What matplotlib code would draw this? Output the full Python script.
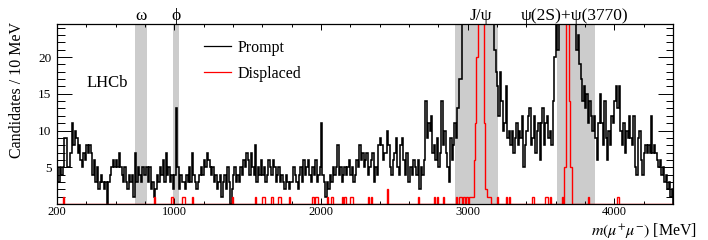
import numpy as np
import matplotlib
matplotlib.use('Agg')
import matplotlib.pyplot as plt
from matplotlib.ticker import FixedLocator, MultipleLocator
import matplotlib.transforms as mtransforms

plt.rcParams['font.family'] = ['Liberation Serif', 'DejaVu Serif']
plt.rcParams['mathtext.fontset'] = 'stix'

# binning: 10 MeV bins from 200 to 4400 MeV
bin_edges = np.arange(200, 4401, 10)

# prompt candidates per 10 MeV bin (rows of 100 MeV)
prompt_counts = [
    5, 3, 5, 4, 5, 9, 9, 5, 5, 7,            # 200
    11, 8, 10, 9, 7, 8, 6, 5, 7, 6,          # 300
    8, 7, 8, 7, 4, 6, 3, 5, 2, 3,            # 400
    4, 3, 2, 3, 0, 3, 4, 5, 6, 5,            # 500
    6, 5, 7, 5, 4, 3, 5, 3, 2, 4,            # 600
    3, 4, 1, 7, 3, 5, 4, 3, 5, 4,            # 700
    4, 5, 3, 5, 2, 3, 1, 2, 4, 3,            # 800
    5, 4, 6, 3, 7, 4, 5, 3, 4, 2,            # 900
    4, 13, 5, 2, 4, 3, 3, 2, 4, 3,           # 1000
    5, 3, 7, 4, 3, 2, 3, 4, 5, 4,            # 1100
    6, 5, 7, 6, 5, 4, 5, 3, 4, 2,            # 1200
    3, 4, 1, 3, 4, 2, 5, 3, 0, 2,            # 1300
    4, 5, 3, 4, 3, 5, 4, 6, 5, 7,            # 1400
    6, 4, 7, 5, 4, 8, 3, 5, 4, 6,            # 1500
    4, 5, 3, 4, 6, 5, 4, 6, 5, 3,            # 1600
    4, 5, 3, 4, 3, 2, 4, 3, 2, 3,            # 1700
    3, 5, 4, 3, 2, 4, 5, 3, 6, 4,            # 1800
    5, 6, 4, 3, 5, 4, 6, 3, 4, 5,            # 1900
    11, 4, 3, 1, 3, 2, 4, 3, 5, 4,           # 2000
    5, 8, 4, 5, 3, 4, 5, 4, 5, 6,            # 2100
    4, 5, 3, 4, 6, 5, 8, 6, 7, 5,            # 2200
    6, 7, 4, 5, 6, 7, 3, 5, 4, 8,            # 2300
    9, 8, 6, 7, 7, 10, 8, 5, 4, 6,           # 2400
    7, 9, 5, 4, 8, 9, 6, 4, 7, 3,            # 2500
    3, 5, 4, 6, 5, 4, 6, 2, 5, 4,            # 2600
    6, 14, 9, 11, 10, 12, 7, 8, 6, 9,        # 2700
    5, 7, 14, 8, 10, 7, 5, 3, 9, 6,          # 2800
    8, 11, 9, 13, 17, 17, 28, 35, 45, 55,    # 2900
    65, 80, 100, 130, 170, 230, 300, 380, 350, 300,  # 3000
    250, 150, 90, 60, 45, 35, 30, 26, 21, 18,        # 3100
    16, 12, 18, 14, 10, 11, 16, 9, 10, 8,    # 3200
    10, 7, 9, 11, 8, 10, 9, 12, 5, 8,        # 3300
    10, 12, 13, 8, 9, 12, 7, 10, 11, 6,      # 3400
    11, 13, 8, 11, 12, 9, 10, 8, 14, 20,     # 3500
    26, 21, 30, 26, 40, 60, 120, 220, 260, 160,      # 3600
    90, 45, 32, 26, 21, 23, 19, 17, 14, 16,  # 3700
    13, 15, 11, 14, 12, 10, 12, 9, 6, 11,    # 3800
    15, 11, 8, 14, 9, 6, 10, 8, 12, 11,      # 3900
    14, 16, 13, 16, 10, 8, 11, 7, 10, 9,     # 4000
    12, 9, 8, 12, 5, 4, 9, 10, 6, 4,         # 4100
    7, 8, 7, 8, 7, 12, 7, 8, 7, 6,           # 4200
    5, 6, 4, 5, 3, 4, 2, 3, 1, 2,            # 4300
]

# displaced candidates: lower bin edge -> count (all other bins empty)
displaced_bins = [240, 860, 980, 1050, 1060, 1120, 1390, 1550, 1600, 1610,
                  1660, 1710, 1720, 1780, 1940, 1960, 1970, 2040, 2070, 2140,
                  2160, 2200, 2210, 2320, 2340, 2450, 2660, 2770, 2790, 2830,
                  2920, 2940, 2950, 2970, 2990, 3010, 3020, 3030, 3040, 3050,
                  3060, 3070, 3080, 3090, 3100, 3110, 3120, 3130, 3140, 3150,
                  3200, 3260, 3280, 3440, 3530, 3540, 3560, 3640, 3660, 3670,
                  3680, 3690, 3700, 3820, 4020]
displaced_vals = [1, 1, 1, 1, 1, 1, 1, 1, 1, 1,
                  1, 1, 1, 1, 1, 1, 1, 1, 1, 1,
                  1, 1, 1, 1, 1, 2, 1, 1, 1, 1,
                  1, 1, 1, 1, 1, 1, 1, 1, 6, 11,
                  20, 45, 90, 90, 40, 11, 2, 1, 1, 1,
                  1, 1, 1, 1, 1, 1, 1, 1, 5, 60,
                  55, 14, 5, 1, 1]

# vetoed resonance regions
veto_lo = [733, 990, 2914, 3609]
veto_hi = [813, 1035, 3210, 3871]
veto_names = ['ω', 'ϕ', 'J/ψ', 'ψ(2S)+ψ(3770)']
veto_label_x = [775, 1010, 3090, 3730]

displaced_counts = np.zeros(len(bin_edges) - 1)
for b, v in zip(displaced_bins, displaced_vals):
    displaced_counts[(b - 200) // 10] = v

fig = plt.figure(figsize=(7.08, 2.40), dpi=100)
ax = fig.add_axes([57/708, 1 - 204/240, (673 - 57)/708, 180/240])

for lo, hi in zip(veto_lo, veto_hi):
    ax.axvspan(lo, hi, color='#cccccc', lw=0, zorder=0)

ax.stairs(prompt_counts, bin_edges, color='black', lw=1.15, zorder=2, label='Prompt')
ax.stairs(displaced_counts, bin_edges, color='red', lw=1.0, zorder=2.2, label='Displaced')

ax.set_xlim(200, 4400)
ax.set_ylim(0, 24.5)

trans = mtransforms.blended_transform_factory(ax.transData, ax.transAxes)
for name, xpos in zip(veto_names, veto_label_x):
    ax.text(xpos, 1.025, name, transform=trans, ha='center', va='baseline', fontsize=12.5)

ax.text(398, 16.5, 'LHCb', ha='left', va='center', fontsize=12)

ax.xaxis.set_major_locator(FixedLocator([200, 1000, 2000, 3000, 4000]))
ax.xaxis.set_minor_locator(MultipleLocator(200))
ax.yaxis.set_major_locator(FixedLocator([5, 10, 15, 20]))
ax.yaxis.set_minor_locator(MultipleLocator(1))
ax.tick_params(which='both', direction='in', top=True, right=True, width=0.7, labelsize=9.5)
ax.xaxis.set_tick_params(which='major', length=4.3, pad=1.5, labelsize=9)
ax.xaxis.set_tick_params(which='minor', length=2.2)
ax.yaxis.set_tick_params(which='major', length=10.8, pad=4)
ax.yaxis.set_tick_params(which='minor', length=5.4)
for s in ax.spines.values():
    s.set_linewidth(0.9)

leg = ax.legend(loc='upper left', bbox_to_anchor=(204/708, 1 - 40/240),
                bbox_transform=fig.transFigure, frameon=False, fontsize=11.5,
                handlelength=1.7, handletextpad=0.4, labelspacing=0.6,
                borderpad=0, borderaxespad=0)
for h in leg.get_lines():
    h.set_linewidth(0.9)

fig.text(697/708, 1 - 230/240, r'$m(\mu^{+}\mu^{-})$ [MeV]', ha='right', va='center', fontsize=11.5)
fig.text(17/708, 1 - 22/240, 'Candidates / 10 MeV', rotation=90, ha='center', va='top', fontsize=11.5)

fig.savefig('out.png', dpi=100)
